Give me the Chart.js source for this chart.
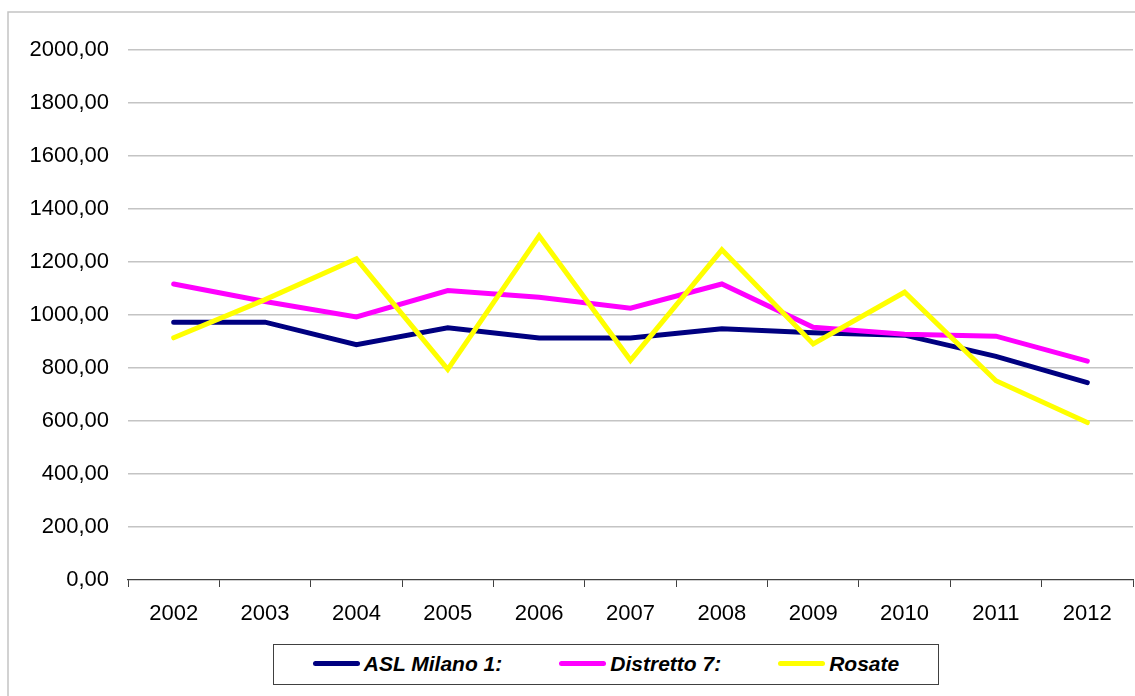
<!DOCTYPE html>
<html lang="it">
<head>
<meta charset="utf-8">
<title>ASL Milano 1 – Distretto 7 – Rosate</title>
<script src="https://cdn.jsdelivr.net/npm/chart.js@4/dist/chart.umd.min.js"></script>
<style>
  html, body { margin: 0; padding: 0; background: #ffffff; }
  #wrap { position: relative; width: 1135px; height: 696px; overflow: hidden; }
  #chart { position: absolute; left: 0; top: 0; }
  #legend {
    position: absolute; left: 273px; top: 644px; width: 664px; height: 39px;
    border: 1px solid #404040; background: #ffffff; box-sizing: content-box;
    display: flex; align-items: center; justify-content: center; gap: 57px;
    font-family: "Liberation Sans", Arial, sans-serif; font-weight: bold; font-style: italic;
    font-size: 21px; color: #000000;
  }
  .item { display: flex; align-items: center; gap: 4px; line-height: 1; padding-bottom: 3px; }
  .swatch { width: 47px; height: 5px; border-radius: 3px; }
</style>
</head>
<body>
<div id="wrap">
  <canvas id="chart" width="1135" height="696"></canvas>
  <div id="legend"></div>
</div>
<script>
// Years on the category axis
const categories = ['2002', '2003', '2004', '2005', '2006', '2007', '2008', '2009', '2010', '2011', '2012'];

// Series values
const aslMilano1 = [973, 973, 888, 952, 913, 913, 948, 933, 924, 844, 745];
const distretto7 = [1117, 1051, 993, 1092, 1067, 1026, 1117, 954, 927, 920, 826];
const rosate     = [914, 1058, 1212, 795, 1299, 829, 1246, 891, 1086, 752, 594];

// Series names and colours
const seriesNames  = ['ASL Milano 1:', 'Distretto 7:', 'Rosate'];
const seriesColors = ['#000080', '#FF00FF', '#FFFF00'];

// Value axis range
const yMin = 0, yMax = 2000, yStep = 200;
const formatValue = v => v.toFixed(2).replace('.', ',');

const FONT = '"Liberation Sans", Arial, sans-serif';

// Light frame around the chart
const framePlugin = {
  id: 'frame',
  beforeDraw(chart) {
    const ctx = chart.ctx;
    ctx.save();
    ctx.fillStyle = '#ffffff';
    ctx.fillRect(0, 0, chart.width, chart.height);
    ctx.strokeStyle = '#c4c4c4';
    ctx.lineWidth = 1.5;
    ctx.beginPath();
    ctx.moveTo(8, chart.height);
    ctx.lineTo(8, 12);
    ctx.lineTo(chart.width, 12);
    ctx.stroke();
    ctx.restore();
  }
};

const seriesData = [aslMilano1, distretto7, rosate];
const datasets = seriesData.map((data, i) => ({
  label: seriesNames[i],
  data: data,
  borderColor: seriesColors[i],
  backgroundColor: seriesColors[i],
  borderWidth: 5,
  borderCapStyle: 'round',
  borderJoinStyle: 'miter',
  pointRadius: 0,
  pointHoverRadius: 0,
  tension: 0,
  fill: false,
  order: seriesData.length - i
}));

new Chart(document.getElementById('chart'), {
  type: 'line',
  data: { labels: categories, datasets: datasets },
  plugins: [framePlugin],
  options: {
    responsive: false,
    animation: false,
    events: [],
    layout: { padding: { left: 0, right: 2, top: 50, bottom: 66 } },
    plugins: {
      legend: { display: false },
      tooltip: { enabled: false }
    },
    scales: {
      x: {
        type: 'category',
        offset: true,
        grid: {
          display: true,
          offset: true,
          drawOnChartArea: false,
          drawTicks: true,
          tickLength: 7,
          color: '#404040',
          lineWidth: 1
        },
        border: { display: true, color: '#404040', width: 1.2 },
        ticks: {
          color: '#000000',
          font: { family: FONT, size: 22 },
          padding: 14,
          maxRotation: 0,
          autoSkip: false
        },
        afterFit(scale) { scale.height = 50; }
      },
      y: {
        min: yMin,
        max: yMax,
        grid: {
          drawTicks: false,
          color: ctx => (ctx.tick && ctx.tick.value === 0) ? 'rgba(0,0,0,0)' : '#c4c4c4',
          lineWidth: 1.5
        },
        border: { display: false },
        ticks: {
          stepSize: yStep,
          color: '#000000',
          font: { family: FONT, size: 22 },
          padding: 19,
          callback: v => formatValue(v)
        },
        afterFit(scale) { scale.width = 128; }
      }
    }
  }
});

// Legend box below the chart
const legendEl = document.getElementById('legend');
seriesNames.forEach((name, i) => {
  const item = document.createElement('div');
  item.className = 'item';
  const sw = document.createElement('span');
  sw.className = 'swatch';
  sw.style.background = seriesColors[i];
  const txt = document.createElement('span');
  txt.textContent = name;
  item.appendChild(sw);
  item.appendChild(txt);
  legendEl.appendChild(item);
});
</script>
</body>
</html>
